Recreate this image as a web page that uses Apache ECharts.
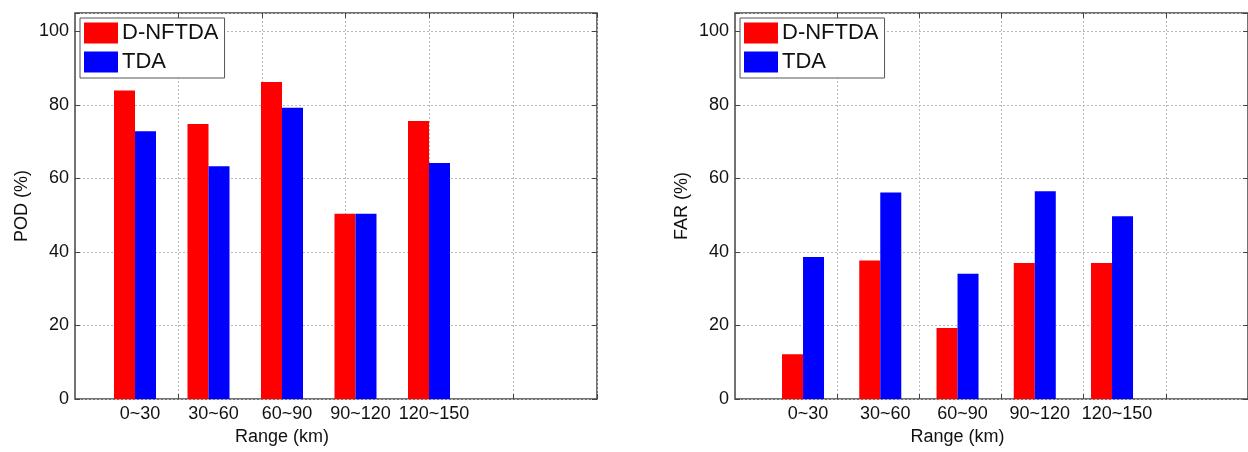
<!DOCTYPE html>
<html>
<head>
<meta charset="utf-8">
<script src="https://cdn.jsdelivr.net/npm/echarts@6/dist/echarts.min.js"></script>
<style>
html,body{margin:0;padding:0;background:#fff;}
#chart{width:1248px;height:452px;}
</style>
</head>
<body>
<div id="chart"></div>
<script>
// ---- data ----
const categories = ['0~30', '30~60', '60~90', '90~120', '120~150'];
const seriesNames = ['D-NFTDA', 'TDA'];
const podDNFTDA = [83.9, 74.8, 86.2, 50.4, 75.6];
const podTDA = [72.8, 63.3, 79.2, 50.4, 64.2];
const farDNFTDA = [12.2, 37.7, 19.3, 37.0, 37.0];
const farTDA = [38.6, 56.2, 34.1, 56.5, 49.7];
const yTicks = [0, 20, 40, 60, 80, 100];
const yNames = ['POD (%)', 'FAR (%)'];
const xName = 'Range (km)';

const FONT = '"Liberation Sans", Arial, Helvetica, sans-serif';
const RED = '#ff0000', BLUE = '#0000ff';
const GRIDC = '#b8b8b8';
const FRAME = '#444';
const TOP = 13, H = 386;

// panel geometry
const panels = [
  { frameLeft: 75, vgLeft: 178.2, vgWidth: 418.8, barLeft: 98.25, barWidth: 367.5, yName: yNames[0], a: podDNFTDA, b: podTDA },
  { frameLeft: 735, vgLeft: 837, vgWidth: 420, barLeft: 764.4, barWidth: 386.25, yName: yNames[1], a: farDNFTDA, b: farTDA }
];

const option = { animation: false, backgroundColor: '#fff', grid: [], xAxis: [], yAxis: [], series: [], legend: [] };

panels.forEach((p, i) => {
  const g0 = option.grid.length;
  // frame grid
  option.grid.push({ left: p.frameLeft, top: TOP, width: 522, height: H, show: true,
    backgroundColor: '#fff', borderColor: FRAME, borderWidth: 1.5 });
  // vertical gridline grid
  option.grid.push({ left: p.vgLeft, top: TOP, width: p.vgWidth, height: H });
  // bar grid
  option.grid.push({ left: p.barLeft, top: TOP, width: p.barWidth, height: H });

  // frame axes
  option.xAxis.push({ type: 'value', gridIndex: g0, min: 0, max: 1, show: false });
  option.yAxis.push({
    type: 'value', gridIndex: g0, min: 0, max: 105, interval: 20, position: 'left',
    axisLine: { show: false },
    axisTick: { show: true, inside: true, length: 5, lineStyle: { color: FRAME } },
    axisLabel: { color: '#111', fontSize: 18, fontFamily: FONT, margin: 6,
      formatter: v => (yTicks.indexOf(v) >= 0 ? String(v) : '') },
    splitLine: { show: true, lineStyle: { color: GRIDC, type: [2, 2], width: 1 } },
    name: p.yName, nameLocation: 'middle', nameGap: 44,
    nameTextStyle: { color: '#111', fontSize: 18, fontFamily: FONT }
  });
  option.yAxis.push({
    type: 'value', gridIndex: g0, min: 0, max: 105, interval: 20, position: 'right',
    axisLine: { show: false },
    axisTick: { show: true, inside: true, length: 5, lineStyle: { color: FRAME } },
    axisLabel: { show: false }, splitLine: { show: false }
  });

  // vertical gridlines axes
  option.xAxis.push({
    type: 'value', gridIndex: g0 + 1, min: 1, max: 6, interval: 1, position: 'bottom',
    axisLine: { show: false }, axisLabel: { show: false },
    axisTick: { show: true, inside: true, length: 5, lineStyle: { color: FRAME } },
    splitLine: { show: true, lineStyle: { color: GRIDC, type: [2, 2], width: 1 } }
  });
  option.xAxis.push({
    type: 'value', gridIndex: g0 + 1, min: 1, max: 6, interval: 1, position: 'top',
    axisLine: { show: false }, axisLabel: { show: false },
    axisTick: { show: true, inside: true, length: 5, lineStyle: { color: FRAME } },
    splitLine: { show: false }
  });
  option.yAxis.push({ type: 'value', gridIndex: g0 + 1, min: 0, max: 105, show: false });

  // bar axes
  const xB = option.xAxis.length;
  option.xAxis.push({
    type: 'category', gridIndex: g0 + 2, data: categories,
    axisLine: { show: false }, axisTick: { show: false }, splitLine: { show: false },
    axisLabel: { interval: 0, color: '#111', fontSize: 18, fontFamily: FONT, margin: 6, padding: [0, 0, 0, 10] },
    name: xName, nameLocation: 'middle', nameGap: 29,
    nameTextStyle: { color: '#111', fontSize: 18, fontFamily: FONT }
  });
  const yB = option.yAxis.length;
  option.yAxis.push({ type: 'value', gridIndex: g0 + 2, min: 0, max: 105, show: false });

  option.series.push({
    name: seriesNames[0], type: 'bar', xAxisIndex: xB, yAxisIndex: yB, data: p.a,
    barWidth: 21, barGap: '0%', itemStyle: { color: RED }, z: 3
  });
  option.series.push({
    name: seriesNames[1], type: 'bar', xAxisIndex: xB, yAxisIndex: yB, data: p.b,
    barWidth: 21, barGap: '0%', itemStyle: { color: BLUE }, z: 3
  });

  option.legend.push({
    data: seriesNames, orient: 'vertical', left: p.frameLeft + 5, top: 18,
    itemWidth: 34, itemHeight: 21, itemGap: 7, icon: 'rect',
    backgroundColor: '#fff', borderColor: '#555', borderWidth: 1,
    padding: [4, 6, 5, 4], selectedMode: false,
    textStyle: { color: '#111', fontSize: 22, fontFamily: FONT, padding: [0, 0, 0, -1] },
    z: 10
  });
});

const chart = echarts.init(document.getElementById('chart'), null, { renderer: 'canvas' });
chart.setOption(option);
</script>
</body>
</html>
